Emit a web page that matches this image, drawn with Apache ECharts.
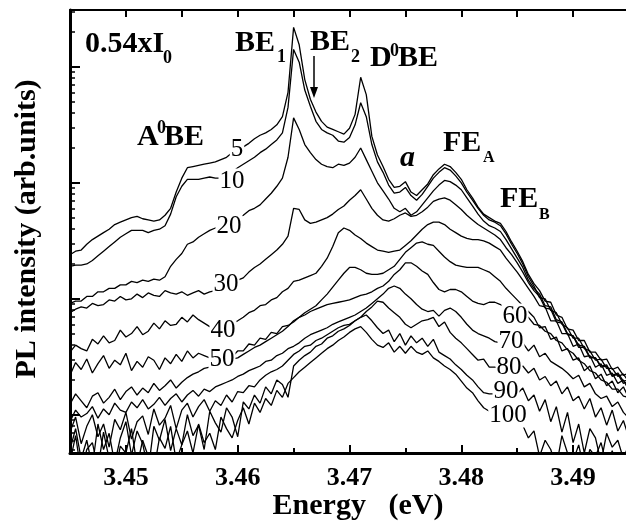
<!DOCTYPE html>
<html>
<head>
<meta charset="utf-8">
<script src="https://cdn.jsdelivr.net/npm/echarts@6/dist/echarts.min.js"></script>
<style>
    html, body { margin: 0; padding: 0; background: #fff; }
    #chart { width: 626px; height: 523px; }
</style>
</head>
<body>
<div id="chart"></div>
<script>
// photon energy (eV), common sampling for all spectra
var energy = [3.4450, 3.4455, 3.4460, 3.4465, 3.4470, 3.4475, 3.4480, 3.4485, 3.4490, 3.4495,
    3.4500, 3.4505, 3.4510, 3.4515, 3.4520, 3.4525, 3.4530, 3.4535, 3.4540, 3.4545,
    3.4550, 3.4555, 3.4560, 3.4565, 3.4570, 3.4575, 3.4580, 3.4585, 3.4590, 3.4595,
    3.4600, 3.4605, 3.4610, 3.4615, 3.4620, 3.4625, 3.4630, 3.4635, 3.4640, 3.4645,
    3.4650, 3.4655, 3.4660, 3.4665, 3.4670, 3.4675, 3.4680, 3.4685, 3.4690, 3.4695,
    3.4700, 3.4705, 3.4710, 3.4715, 3.4720, 3.4725, 3.4730, 3.4735, 3.4740, 3.4745,
    3.4750, 3.4755, 3.4760, 3.4765, 3.4770, 3.4775, 3.4780, 3.4785, 3.4790, 3.4795,
    3.4800, 3.4805, 3.4810, 3.4815, 3.4820, 3.4825, 3.4830, 3.4835, 3.4840, 3.4845,
    3.4850, 3.4855, 3.4860, 3.4865, 3.4870, 3.4875, 3.4880, 3.4885, 3.4890, 3.4895,
    3.4900, 3.4905, 3.4910, 3.4915, 3.4920, 3.4925, 3.4930, 3.4935, 3.4940, 3.4945,
    3.4950];

// log10 of PL intensity (arb. units) for each temperature
var logPL5 = [1.38, 1.41, 1.42, 1.47, 1.51, 1.54, 1.57, 1.60, 1.64, 1.66,
    1.68, 1.70, 1.71, 1.69, 1.68, 1.67, 1.68, 1.72, 1.78, 1.92,
    2.04, 2.13, 2.14, 2.15, 2.16, 2.17, 2.18, 2.20, 2.22, 2.26,
    2.28, 2.31, 2.34, 2.38, 2.41, 2.43, 2.46, 2.50, 2.57, 2.78,
    3.34, 3.19, 2.89, 2.72, 2.61, 2.53, 2.48, 2.46, 2.44, 2.42,
    2.47, 2.59, 2.91, 2.76, 2.40, 2.24, 2.14, 2.03, 1.96, 1.97,
    2.01, 1.92, 1.89, 1.94, 1.99, 2.07, 2.12, 2.16, 2.14, 2.09,
    2.03, 1.94, 1.87, 1.79, 1.73, 1.70, 1.67, 1.65, 1.58, 1.49,
    1.41, 1.32, 1.21, 1.13, 1.07, 0.98, 0.97, 0.86, 0.84, 0.74,
    0.73, 0.64, 0.64, 0.54, 0.54, 0.47, 0.48, 0.39, 0.41, 0.34,
    0.36];
var logPL10 = [1.28, 1.29, 1.29, 1.30, 1.33, 1.37, 1.41, 1.45, 1.49, 1.53,
    1.56, 1.59, 1.59, 1.59, 1.57, 1.59, 1.60, 1.63, 1.73, 1.88,
    1.97, 2.03, 2.03, 2.03, 2.04, 2.05, 2.04, 2.04, 2.06, 2.09,
    2.13, 2.16, 2.19, 2.22, 2.26, 2.29, 2.33, 2.37, 2.43, 2.65,
    3.15, 3.04, 2.80, 2.66, 2.53, 2.46, 2.43, 2.41, 2.36, 2.35,
    2.39, 2.50, 2.69, 2.57, 2.33, 2.18, 2.09, 1.98, 1.91, 1.92,
    1.96, 1.89, 1.85, 1.90, 1.97, 2.04, 2.09, 2.13, 2.11, 2.06,
    2.00, 1.92, 1.85, 1.78, 1.72, 1.68, 1.66, 1.63, 1.56, 1.47,
    1.39, 1.30, 1.19, 1.11, 1.01, 1.00, 0.90, 0.88, 0.78, 0.75,
    0.66, 0.66, 0.57, 0.55, 0.47, 0.48, 0.40, 0.40, 0.33, 0.35,
    0.28];
var logPL20 = [0.96, 0.98, 0.98, 1.02, 1.02, 1.06, 1.06, 1.09, 1.09, 1.12,
    1.12, 1.15, 1.14, 1.16, 1.15, 1.17, 1.16, 1.19, 1.28, 1.34,
    1.39, 1.47, 1.49, 1.53, 1.56, 1.59, 1.61, 1.63, 1.66, 1.68,
    1.71, 1.72, 1.76, 1.78, 1.81, 1.86, 1.91, 1.97, 2.04, 2.22,
    2.56, 2.46, 2.33, 2.26, 2.20, 2.16, 2.14, 2.13, 2.16, 2.15,
    2.17, 2.22, 2.30, 2.20, 2.10, 2.00, 1.93, 1.86, 1.78, 1.75,
    1.78, 1.72, 1.75, 1.81, 1.87, 1.93, 1.98, 2.02, 2.01, 1.98,
    1.94, 1.87, 1.80, 1.73, 1.67, 1.63, 1.61, 1.58, 1.51, 1.43,
    1.35, 1.27, 1.16, 1.09, 1.04, 0.94, 0.93, 0.82, 0.80, 0.70,
    0.68, 0.60, 0.59, 0.50, 0.49, 0.42, 0.43, 0.34, 0.36, 0.29,
    0.30];
var logPL30 = [0.88, 0.91, 0.93, 0.92, 0.96, 0.94, 0.95, 0.99, 0.98, 1.02,
    0.99, 1.00, 1.04, 1.01, 1.05, 1.03, 1.02, 1.07, 1.05, 1.04,
    1.06, 1.03, 1.05, 1.07, 1.04, 1.06, 1.07, 1.09, 1.10, 1.13,
    1.16, 1.18, 1.23, 1.27, 1.30, 1.34, 1.38, 1.42, 1.47, 1.54,
    1.78, 1.77, 1.68, 1.65, 1.66, 1.68, 1.70, 1.73, 1.77, 1.80,
    1.85, 1.89, 1.94, 1.86, 1.78, 1.72, 1.68, 1.67, 1.69, 1.72,
    1.74, 1.71, 1.72, 1.75, 1.79, 1.84, 1.86, 1.87, 1.85, 1.81,
    1.77, 1.72, 1.68, 1.64, 1.61, 1.58, 1.55, 1.51, 1.44, 1.38,
    1.31, 1.23, 1.14, 1.07, 1.02, 0.92, 0.91, 0.80, 0.79, 0.69,
    0.68, 0.58, 0.58, 0.49, 0.49, 0.41, 0.42, 0.33, 0.35, 0.27,
    0.29];
var logPL40 = [0.54, 0.60, 0.57, 0.55, 0.65, 0.61, 0.68, 0.62, 0.64, 0.73,
    0.67, 0.70, 0.76, 0.69, 0.72, 0.79, 0.74, 0.81, 0.77, 0.78,
    0.84, 0.80, 0.86, 0.82, 0.79, 0.76, 0.76, 0.77, 0.78, 0.79,
    0.81, 0.84, 0.88, 0.90, 0.94, 0.95, 0.99, 1.01, 1.06, 1.09,
    1.15, 1.16, 1.18, 1.20, 1.22, 1.28, 1.35, 1.45, 1.57, 1.61,
    1.59, 1.55, 1.52, 1.48, 1.45, 1.42, 1.41, 1.40, 1.41, 1.42,
    1.46, 1.50, 1.55, 1.60, 1.64, 1.66, 1.66, 1.64, 1.60, 1.57,
    1.54, 1.52, 1.51, 1.51, 1.50, 1.48, 1.45, 1.42, 1.35, 1.29,
    1.23, 1.16, 1.09, 1.02, 0.94, 0.93, 0.81, 0.81, 0.70, 0.70,
    0.59, 0.61, 0.50, 0.51, 0.41, 0.44, 0.34, 0.36, 0.27, 0.30,
    0.21];
var logPL50 = [0.34, 0.45, 0.39, 0.48, 0.36, 0.44, 0.51, 0.40, 0.47, 0.43,
    0.53, 0.38, 0.46, 0.41, 0.50, 0.47, 0.39, 0.49, 0.44, 0.52,
    0.46, 0.55, 0.49, 0.53, 0.51, 0.49, 0.48, 0.47, 0.47, 0.48,
    0.49, 0.52, 0.55, 0.58, 0.60, 0.63, 0.66, 0.69, 0.72, 0.76,
    0.81, 0.84, 0.88, 0.91, 0.94, 0.99, 1.04, 1.10, 1.16, 1.22,
    1.27, 1.27, 1.25, 1.22, 1.21, 1.21, 1.22, 1.25, 1.28, 1.34,
    1.40, 1.44, 1.48, 1.49, 1.47, 1.46, 1.41, 1.36, 1.32, 1.29,
    1.28, 1.27, 1.27, 1.27, 1.25, 1.23, 1.19, 1.15, 1.09, 1.04,
    0.99, 0.94, 0.89, 0.84, 0.75, 0.76, 0.65, 0.67, 0.55, 0.57,
    0.47, 0.49, 0.38, 0.42, 0.31, 0.35, 0.25, 0.29, 0.19, 0.24,
    0.14];
var logPL60 = [0.09, 0.18, 0.12, 0.06, 0.16, 0.19, 0.10, 0.15, 0.22, 0.13,
    0.20, 0.24, 0.17, 0.23, 0.19, 0.27, 0.21, 0.25, 0.30, 0.23,
    0.28, 0.32, 0.35, 0.37, 0.40, 0.41, 0.43, 0.44, 0.49, 0.50,
    0.55, 0.55, 0.61, 0.60, 0.66, 0.65, 0.71, 0.70, 0.76, 0.77,
    0.80, 0.84, 0.86, 0.89, 0.91, 0.93, 0.95, 0.96, 0.97, 0.98,
    0.99, 1.01, 1.03, 1.04, 1.06, 1.09, 1.11, 1.15, 1.21, 1.25,
    1.31, 1.31, 1.28, 1.24, 1.21, 1.14, 1.08, 1.06, 1.08, 1.08,
    1.06, 1.02, 0.98, 0.96, 0.95, 0.97, 0.97, 0.95, 0.92, 0.90,
    0.88, 0.86, 0.84, 0.78, 0.77, 0.72, 0.70, 0.64, 0.62, 0.56,
    0.53, 0.47, 0.44, 0.38, 0.36, 0.30, 0.28, 0.22, 0.22, 0.16,
    0.15];
var logPL70 = [-0.06, 0.04, -0.02, 0.01, 0.07, -0.03, 0.05, 0.00, 0.10, 0.04,
    0.02, 0.11, 0.06, 0.13, 0.05, 0.09, 0.15, 0.08, 0.14, 0.18,
    0.11, 0.17, 0.21, 0.16, 0.22, 0.20, 0.24, 0.26, 0.28, 0.30,
    0.33, 0.35, 0.38, 0.40, 0.42, 0.46, 0.47, 0.51, 0.53, 0.57,
    0.59, 0.62, 0.66, 0.69, 0.71, 0.73, 0.75, 0.78, 0.80, 0.82,
    0.84, 0.86, 0.89, 0.92, 0.96, 1.00, 1.04, 1.09, 1.11, 1.09,
    1.04, 1.00, 0.95, 0.91, 0.89, 0.90, 0.85, 0.90, 0.92, 0.89,
    0.84, 0.78, 0.73, 0.70, 0.68, 0.66, 0.63, 0.62, 0.61, 0.60,
    0.60, 0.62, 0.55, 0.60, 0.50, 0.53, 0.46, 0.43, 0.40, 0.36,
    0.31, 0.34, 0.24, 0.27, 0.18, 0.14, 0.16, 0.07, 0.11, 0.02,
    -0.03];
var logPL80 = [-0.15, -0.02, -0.25, -0.10, 0.00, -0.19, -0.08, -0.28, -0.04, -0.13,
    0.02, -0.21, -0.06, -0.01, -0.17, 0.05, -0.09, -0.03, 0.08, -0.12,
    0.04, 0.10, -0.02, 0.07, 0.13, 0.03, 0.12, 0.08, 0.17, 0.11,
    0.20, 0.19, 0.25, 0.24, 0.30, 0.34, 0.37, 0.39, 0.42, 0.47,
    0.52, 0.55, 0.59, 0.60, 0.64, 0.66, 0.69, 0.72, 0.75, 0.77,
    0.78, 0.81, 0.84, 0.89, 0.93, 0.98, 0.97, 0.92, 0.88, 0.84,
    0.78, 0.75, 0.78, 0.81, 0.82, 0.84, 0.76, 0.80, 0.71, 0.66,
    0.62, 0.57, 0.52, 0.47, 0.48, 0.41, 0.41, 0.40, 0.40, 0.39,
    0.41, 0.42, 0.36, 0.40, 0.30, 0.33, 0.25, 0.29, 0.18, 0.24,
    0.12, 0.16, 0.05, 0.14, -0.02, 0.06, -0.09, 0.04, -0.14, -0.05,
    -0.20];
var logPL90 = [-0.30, -0.12, -0.38, -0.22, -0.45, -0.08, -0.30, -0.16, -0.42, -0.20,
    -0.06, -0.35, -0.14, -0.25, -0.48, -0.10, -0.22, -0.04, -0.31, -0.12,
    -0.26, 0.00, -0.18, -0.09, -0.30, 0.03, -0.07, -0.15, 0.06, -0.02,
    -0.19, 0.11, 0.05, 0.17, 0.10, 0.24, 0.18, 0.30, 0.26, 0.15,
    0.42, 0.47, 0.51, 0.54, 0.59, 0.61, 0.66, 0.68, 0.72, 0.74,
    0.77, 0.81, 0.84, 0.86, 0.81, 0.75, 0.70, 0.73, 0.63, 0.70,
    0.60, 0.68, 0.62, 0.66, 0.59, 0.65, 0.54, 0.51, 0.48, 0.43,
    0.39, 0.34, 0.30, 0.24, 0.19, 0.18, 0.18, 0.18, 0.18, 0.18,
    0.18, 0.23, 0.12, 0.17, 0.03, 0.13, -0.06, 0.07, -0.15, 0.02,
    -0.24, -0.08, -0.33, -0.12, -0.20, -0.41, -0.16, -0.28, -0.22, -0.38,
    -0.25];
var logPL100 = [-0.41, -0.18, -0.50, -0.30, -0.24, -0.46, -0.15, -0.38, -0.52, -0.27,
    -0.33, -0.12, -0.44, -0.22, -0.36, -0.48, -0.20, -0.29, -0.10, -0.40,
    -0.26, -0.14, -0.33, -0.08, -0.24, -0.16, -0.30, -0.02, -0.12, -0.20,
    -0.05, 0.06, -0.08, 0.10, 0.02, 0.14, 0.08, 0.21, 0.15, 0.27,
    0.32, 0.37, 0.41, 0.45, 0.49, 0.53, 0.57, 0.60, 0.64, 0.67,
    0.71, 0.74, 0.76, 0.71, 0.65, 0.60, 0.58, 0.62, 0.54, 0.59,
    0.53, 0.59, 0.54, 0.52, 0.55, 0.49, 0.46, 0.42, 0.39, 0.35,
    0.29, 0.23, 0.19, 0.12, 0.06, 0.03, 0.00, -0.03, -0.04, -0.06,
    -0.09, -0.09, -0.20, -0.14, -0.36, -0.22, -0.30, -0.45, -0.18, -0.33,
    -0.40, -0.26, -0.48, -0.30, -0.36, -0.24, -0.44, -0.31, -0.50, -0.35,
    -0.42];

var temps = ['5', '10', '20', '30', '40', '50', '60', '70', '80', '90', '100'];
var xLabelTicks = [3.45, 3.46, 3.47, 3.48, 3.49];
var xMinorTicks = [3.445, 3.455, 3.465, 3.475, 3.485, 3.495];
var yDecadeTicks = [1, 10, 100, 1000];
var yMinorTicks = [0.5, 0.6, 0.7, 0.8, 0.9, 2, 3, 4, 5, 6, 7, 8, 9,
    20, 30, 40, 50, 60, 70, 80, 90, 200, 300, 400, 500, 600, 700, 800, 900, 2000, 3000];

var serif = '"Liberation Serif", "DejaVu Serif", serif';
var xMin = 3.445, xMax = 3.495;
var yMin = Math.pow(10, -0.33), yMax = Math.pow(10, 3.49);

var curves = [logPL5, logPL10, logPL20, logPL30, logPL40, logPL50,
    logPL60, logPL70, logPL80, logPL90, logPL100];

var series = curves.map(function (c, k) {
    return {
        name: temps[k] + ' K',
        type: 'line',
        xAxisIndex: 0,
        yAxisIndex: 0,
        symbol: 'none',
        silent: true,
        lineStyle: { color: '#000', width: 1.3 },
        data: energy.map(function (e, i) { return [e, Math.pow(10, c[i])]; })
    };
});

function txt(x, y, text, size, bold, extra) {
    var font = (bold ? 'bold ' : '') + size + 'px ' + serif;
    var style = {
        text: text, font: font, fill: '#000',
        textAlign: 'left', textVerticalAlign: 'middle', align: 'left', verticalAlign: 'middle'
    };
    for (var k in (extra || {})) style[k] = extra[k];
    return { type: 'text', x: x, y: y, z: 100, style: style };
}

// temperature labels sit on the curves, white box breaks the line like the original
var tempPos = [[237, 149], [232, 181], [229, 226], [226, 284], [223, 330], [222, 359],
    [515, 316], [511, 341], [509, 367], [506, 391], [508, 415]];
var tempLabels = temps.map(function (t, k) {
    return txt(tempPos[k][0], tempPos[k][1], t, 25, false, {
        textAlign: 'center', align: 'center', backgroundColor: '#fff', padding: [0, 1]
    });
});

var notes = [
    txt(85, 44, '0.54xI', 30, true),
    txt(163, 58, '0', 18, true),
    txt(235, 43, 'BE', 30, true),
    txt(277, 57, '1', 18, true),
    txt(310, 42, 'BE', 30, true),
    txt(351, 57, '2', 18, true),
    txt(370, 58, 'D', 30, true),
    txt(390, 51, '0', 18, true),
    txt(398, 58, 'BE', 30, true),
    txt(137, 137, 'A', 30, true),
    txt(157, 128, '0', 18, true),
    txt(164, 137, 'BE', 30, true),
    txt(400, 158, 'a', 30, true, { font: 'italic bold 30px ' + serif }),
    txt(443, 143, 'FE', 30, true),
    txt(483, 158, 'A', 16, true),
    txt(500, 199, 'FE', 30, true),
    txt(539, 215, 'B', 16, true),
    { type: 'line', z: 100, shape: { x1: 314, y1: 56, x2: 314, y2: 90 }, style: { stroke: '#000', lineWidth: 1.5 } },
    { type: 'polygon', z: 100, shape: { points: [[310, 87], [318, 87], [314, 98]] }, style: { fill: '#000' } },
    txt(358, 506, 'Energy   (eV)', 30, true, { textAlign: 'center', align: 'center' }),
    {
        type: 'text', x: 27, y: 229, rotation: Math.PI / 2, z: 100,
        style: {
            text: 'PL intensity (arb.units)', font: 'bold 30px ' + serif, fill: '#000',
            textAlign: 'center', textVerticalAlign: 'middle', align: 'center', verticalAlign: 'middle'
        }
    }
];

var chart = echarts.init(document.getElementById('chart'));
chart.setOption({
    backgroundColor: '#fff',
    animation: false,
    grid: { left: 70, top: 10, right: -3, bottom: 70, containLabel: false, outerBoundsMode: 'none' },
    xAxis: [{
        type: 'value', position: 'bottom', min: xMin, max: xMax, interval: 0.005,
        axisLine: { show: true, onZero: false, lineStyle: { color: '#000', width: 3 } },
        axisTick: { show: true, inside: true, length: 8, customValues: xLabelTicks, lineStyle: { color: '#000', width: 2 } },
        axisLabel: {
            customValues: xLabelTicks, color: '#000', fontFamily: serif, fontWeight: 'bold', fontSize: 26, margin: 12,
            formatter: function (v) { return v.toFixed(2); }
        },
        splitLine: { show: false }
    }, {
        type: 'value', position: 'bottom', min: xMin, max: xMax, interval: 0.005,
        axisLine: { show: false },
        axisTick: { show: true, inside: true, length: 5, customValues: xMinorTicks, lineStyle: { color: '#000', width: 2 } },
        axisLabel: { show: false },
        splitLine: { show: false }
    }, {
        type: 'value', position: 'top', min: xMin, max: xMax, interval: 0.005,
        axisLine: { show: true, onZero: false, lineStyle: { color: '#000', width: 2 } },
        axisTick: { show: true, inside: true, length: 7, lineStyle: { color: '#000', width: 2 } },
        axisLabel: { show: false },
        splitLine: { show: false }
    }],
    yAxis: [{
        type: 'log', logBase: 10, position: 'left', min: yMin, max: yMax,
        axisLine: { show: true, onZero: false, lineStyle: { color: '#000', width: 3 } },
        axisTick: { show: true, inside: true, length: 10, customValues: yDecadeTicks, lineStyle: { color: '#000', width: 2 } },
        axisLabel: { show: false },
        splitLine: { show: false }
    }, {
        type: 'log', logBase: 10, position: 'left', min: yMin, max: yMax,
        axisLine: { show: false },
        axisTick: { show: true, inside: true, length: 5, customValues: yMinorTicks, lineStyle: { color: '#000', width: 1.5 } },
        axisLabel: { show: false },
        splitLine: { show: false }
    }],
    graphic: tempLabels.concat(notes),
    series: series
});
</script>
</body>
</html>
